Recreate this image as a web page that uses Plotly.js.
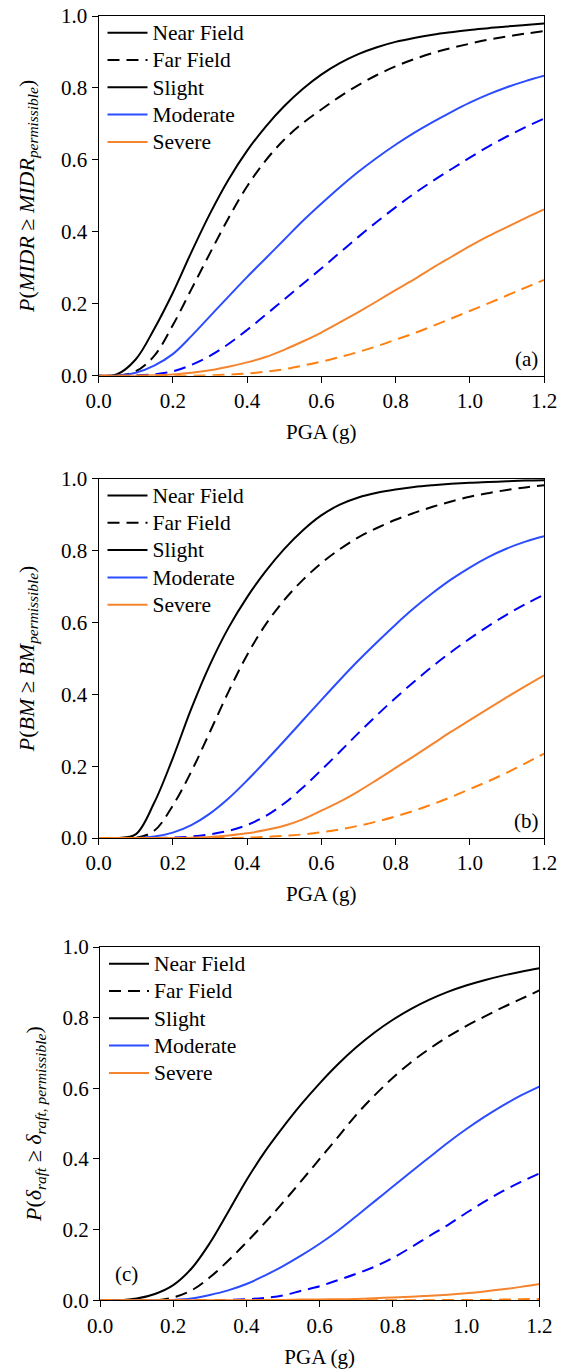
<!DOCTYPE html>
<html><head><meta charset="utf-8">
<script src="https://cdn.plot.ly/plotly-3.0.1.min.js"></script>
<style>html,body{margin:0;padding:0;background:#fff}#chart{width:566px;height:1371px}</style>
</head><body><div id="chart"></div>
<script>
// ---------- data ----------
const pga = [0,0.05,0.1,0.15,0.2,0.25,0.3,0.35,0.4,0.45,0.5,0.55,0.6,0.65,0.7,0.75,0.8,0.85,0.9,0.95,1.0,1.05,1.1,1.15,1.2];

// (a) MIDR
const aNearSlight = [0,0.004,0.045,0.13,0.23,0.343,0.45,0.545,0.625,0.692,0.749,0.797,0.837,0.869,0.894,0.913,0.928,0.939,0.948,0.955,0.961,0.966,0.971,0.975,0.979];
const aFarSlight  = [0,0,0.012,0.055,0.14,0.24,0.34,0.438,0.526,0.598,0.656,0.702,0.74,0.776,0.808,0.836,0.86,0.88,0.897,0.911,0.923,0.934,0.943,0.951,0.958];
const aNearMod    = [0,0,0.008,0.028,0.06,0.11,0.165,0.22,0.274,0.326,0.378,0.43,0.478,0.524,0.567,0.606,0.642,0.675,0.705,0.733,0.759,0.782,0.802,0.819,0.834];
const aFarMod     = [0,0,0.001,0.004,0.012,0.03,0.055,0.088,0.127,0.169,0.212,0.255,0.298,0.342,0.386,0.428,0.468,0.506,0.541,0.574,0.606,0.637,0.665,0.691,0.715];
const aNearSev    = [0,0,0,0.001,0.003,0.008,0.015,0.025,0.037,0.052,0.072,0.095,0.12,0.148,0.177,0.207,0.238,0.268,0.3,0.33,0.36,0.388,0.413,0.438,0.462];
const aFarSev     = [0,0,0,0,0,0,0.001,0.003,0.006,0.011,0.018,0.028,0.039,0.052,0.066,0.082,0.1,0.118,0.138,0.159,0.18,0.201,0.223,0.245,0.266];

// (b) BM
const bNearSlight = [0,0,0.01,0.098,0.222,0.36,0.482,0.585,0.67,0.742,0.804,0.856,0.898,0.928,0.948,0.961,0.97,0.977,0.982,0.986,0.989,0.991,0.993,0.995,0.996];
const bFarSlight  = [0,0,0,0.02,0.09,0.185,0.295,0.407,0.509,0.594,0.662,0.718,0.765,0.804,0.837,0.863,0.886,0.905,0.922,0.937,0.95,0.96,0.969,0.976,0.982];
const bNearMod    = [0,0,0,0.004,0.015,0.036,0.068,0.11,0.16,0.214,0.27,0.327,0.384,0.44,0.494,0.545,0.594,0.64,0.682,0.72,0.753,0.782,0.806,0.825,0.84];
const bFarMod     = [0,0,0,0,0.001,0.004,0.01,0.02,0.036,0.061,0.096,0.14,0.189,0.24,0.292,0.342,0.39,0.435,0.478,0.518,0.555,0.59,0.622,0.651,0.677];
const bNearSev    = [0,0,0,0,0,0.001,0.003,0.007,0.013,0.022,0.034,0.052,0.076,0.101,0.13,0.162,0.195,0.228,0.262,0.296,0.328,0.36,0.392,0.423,0.453];
const bFarSev     = [0,0,0,0,0,0,0,0,0.001,0.003,0.006,0.01,0.016,0.024,0.034,0.046,0.06,0.076,0.094,0.114,0.136,0.158,0.182,0.208,0.235];

// (c) raft settlement
const cNearSlight = [0,0,0.005,0.018,0.043,0.09,0.162,0.25,0.34,0.42,0.49,0.555,0.614,0.668,0.716,0.758,0.794,0.825,0.851,0.873,0.891,0.906,0.919,0.93,0.94];
const cFarSlight  = [0,0,0,0,0.008,0.028,0.065,0.112,0.164,0.219,0.277,0.338,0.4,0.462,0.525,0.58,0.63,0.674,0.712,0.746,0.776,0.803,0.829,0.853,0.877];
const cNearMod    = [0,0,0,0,0.001,0.005,0.015,0.028,0.046,0.07,0.097,0.127,0.16,0.197,0.238,0.28,0.322,0.364,0.405,0.446,0.484,0.519,0.551,0.58,0.605];
const cFarMod     = [0,0,0,0,0,0,0,0.001,0.003,0.007,0.014,0.027,0.04,0.057,0.075,0.095,0.12,0.15,0.182,0.213,0.247,0.279,0.309,0.335,0.359];
const cNearSev    = [0,0,0,0,0,0,0,0,0,0.001,0.001,0.002,0.002,0.003,0.004,0.006,0.008,0.01,0.013,0.016,0.02,0.025,0.031,0.038,0.046];
const cFarSev     = [0,0,0,0,0,0,0,0,0,0,0,0,0,0,0,0,0,0,0,0.001,0.001,0.001,0.002,0.003,0.004];

const xTickVals = [0,0.2,0.4,0.6,0.8,1.0,1.2];
const xTickText = ['0.0','0.2','0.4','0.6','0.8','1.0','1.2'];
const yTickVals = [0,0.2,0.4,0.6,0.8,1.0];
const yTickText = ['0.0','0.2','0.4','0.6','0.8','1.0'];
const legendNames = ['Near Field','Far Field','Slight','Moderate','Severe'];
const panelLabels = ['(a)','(b)','(c)'];
const yTitles = [
  '<i>P</i>(<i>MIDR</i> ≥ <i>MIDR</i><sub><i>permissible</i></sub>)',
  '<i>P</i>(<i>BM</i> ≥ <i>BM</i><sub><i>permissible</i></sub>)',
  '<i>P</i>(<i>δ</i><sub><i>raft</i></sub> ≥ <i>δ</i><sub><i>raft, permissible</i></sub>)'
];
const xTitle = 'PGA (g)';

// ---------- styling / layout ----------
const W = 566, H = 1371;
const FONT = 'Liberation Serif, Times New Roman, serif';
const BLACK = '#000000', BLUE_S = '#2b4cff', BLUE_D = '#0000ff', OR_S = '#f5842e', OR_D = '#ff8010';
const DASH = '12px,7px';
const LW = 2;

const panels = [
  {sets:[aNearSlight,aFarSlight,aNearMod,aFarMod,aNearSev,aFarSev], px:[98.5,544], py:[16,375.7], lab:{x:526.5,y:359}, ysd:20},
  {sets:[bNearSlight,bFarSlight,bNearMod,bFarMod,bNearSev,bFarSev], px:[98.5,544], py:[478.8,838], lab:{x:526.5,y:821}, ysd:20},
  {sets:[cNearSlight,cFarSlight,cNearMod,cFarMod,cNearSev,cFarSev], px:[100,539.3], py:[947,1300.3], lab:{x:126,y:1274}, ysd:14}
];
const styles = [
  {c:BLACK, d:'solid'}, {c:BLACK, d:DASH},
  {c:BLUE_S, d:'solid'}, {c:BLUE_D, d:DASH},
  {c:OR_S, d:'solid'}, {c:OR_D, d:DASH}
];
const legendStyles = [
  {c:BLACK,d:'solid'},{c:BLACK,d:DASH},{c:BLACK,d:'solid'},{c:BLUE_S,d:'solid'},{c:OR_S,d:'solid'}
];

const data = [];
const layout = {
  width: W, height: H,
  margin: {l:0, r:0, t:0, b:0},
  paper_bgcolor: '#fff', plot_bgcolor: '#fff',
  font: {family: FONT, size: 20, color: '#000'},
  annotations: [],
  showlegend: true
};

panels.forEach((p, i) => {
  const n = i === 0 ? '' : String(i + 1);
  const xa = 'x' + n, ya = 'y' + n;
  const lg = 'legend' + n;
  p.sets.forEach((ys, k) => {
    data.push({
      type: 'scatter', mode: 'lines', x: pga, y: ys,
      xaxis: xa, yaxis: ya, showlegend: false, hoverinfo: 'skip',
      line: {color: styles[k].c, dash: styles[k].d, width: LW, shape: 'spline', smoothing: 1}
    });
  });
  legendNames.forEach((nm, k) => {
    data.push({
      type: 'scatter', mode: 'lines', x: [null], y: [null],
      name: '<span style="font-size:21.5px">' + nm + '</span>',
      xaxis: xa, yaxis: ya, legend: lg, showlegend: true,
      line: {color: legendStyles[k].c, dash: legendStyles[k].d, width: LW}
    });
  });
  const xdom = [p.px[0]/W, p.px[1]/W];
  const ydom = [1 - p.py[1]/H, 1 - p.py[0]/H];
  layout['xaxis' + n] = {
    domain: xdom, anchor: ya, range: [0, 1.2],
    tickmode: 'array', tickvals: xTickVals, ticktext: xTickText,
    ticks: 'outside', ticklen: 6, tickwidth: 1, tickcolor: '#000',
    showline: true, linecolor: '#000', linewidth: 1, mirror: true,
    showgrid: false, zeroline: false,
    tickfont: {family: FONT, size: 21, color: '#000'},
    title: {text: xTitle, font: {family: FONT, size: 21, color: '#000'}, standoff: 12}
  };
  layout['yaxis' + n] = {
    domain: ydom, anchor: xa, range: [0, 1.0],
    tickmode: 'array', tickvals: yTickVals, ticktext: yTickText,
    ticks: 'outside', ticklen: 6, tickwidth: 1, tickcolor: '#000',
    showline: true, linecolor: '#000', linewidth: 1, mirror: true,
    showgrid: false, zeroline: false,
    tickfont: {family: FONT, size: 21, color: '#000'},
    title: {text: yTitles[i], font: {family: FONT, size: 22, color: '#000'}, standoff: p.ysd}
  };
  layout[lg] = {
    x: (p.px[0] + 4) / W, xanchor: 'left',
    y: 1 - (p.py[0] - 2) / H, yanchor: 'top',
    bgcolor: 'rgba(0,0,0,0)', borderwidth: 0, itemwidth: 40,
    font: {family: FONT, size: 18.7, color: '#000'},
    tracegroupgap: 0, itemclick: false, itemdoubleclick: false
  };
  layout.annotations.push({
    xref: 'paper', yref: 'paper', x: p.lab.x / W, y: 1 - p.lab.y / H,
    xanchor: 'center', yanchor: 'middle', showarrow: false,
    text: panelLabels[i], font: {family: FONT, size: 21, color: '#000'}
  });
});

Plotly.newPlot('chart', data, layout, {staticPlot: true, displayModeBar: false});
</script></body></html>
